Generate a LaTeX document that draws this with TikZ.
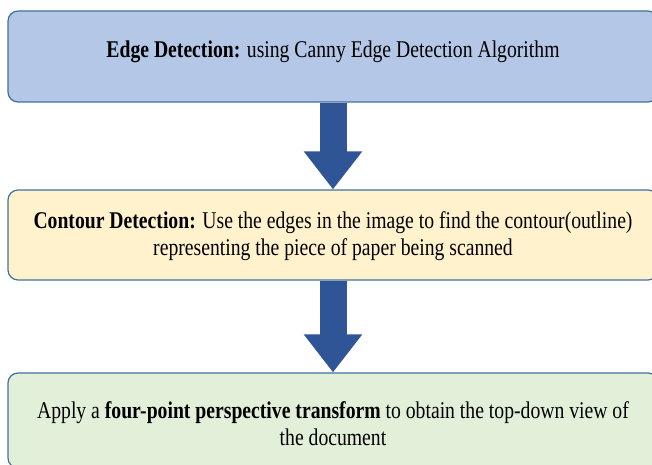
\documentclass[tikz,border=0pt]{standalone}
\usepackage{fontspec}
\setmainfont{Liberation Serif}[FakeStretch=0.82]
\usetikzlibrary{arrows.meta}
\definecolor{edgefill}{HTML}{B4C7E7}
\definecolor{contourfill}{HTML}{FFF2CC}
\definecolor{warpfill}{HTML}{E2F0D9}
\definecolor{boxline}{HTML}{41719C}
\definecolor{arrowblue}{HTML}{2F5597}
\begin{document}
\begin{tikzpicture}[x=1pt, y=1pt,
        box/.style = {draw=boxline, line width=1.2pt, rounded corners=10pt, minimum width=650pt, inner sep=0pt},
        txt/.style = {align=center, inner sep=0pt, anchor=base, font=\fontsize{24}{27}\selectfont},
        flow/.style = {arrowblue, line width=27pt, -{Triangle[width=56pt, length=38pt]}}]
                \useasboundingbox (0,0) rectangle (652,464);
                \clip (0,0) rectangle (652,464);

                \node[box, fill=edgefill] (edge) [minimum height=91pt] at (333,407.5) {};
                \node[box, fill=contourfill] (contour) [minimum height=90pt] at (333,229) {};
                \node[box, fill=warpfill] (warp) [minimum height=95pt] at (333,43.5) {};

                % base anchor sits on the last line
                \node[txt] (edgetxt) at (333,406) {\textbf{Edge Detection:} using Canny Edge Detection Algorithm};
                \node[txt] (contourtxt) at (333,209) {\textbf{Contour Detection:} Use the edges in the image to find the contour(outline)\\ representing the piece of paper being scanned};
                \node[txt] (warptxt) at (333,19) {Apply a \textbf{four-point perspective transform} to obtain the top-down view of\\ the document};

                \draw[flow] (edge) -- (contour);
                \draw[flow] (contour) -- (warp);

            \end{tikzpicture}
\end{document}
